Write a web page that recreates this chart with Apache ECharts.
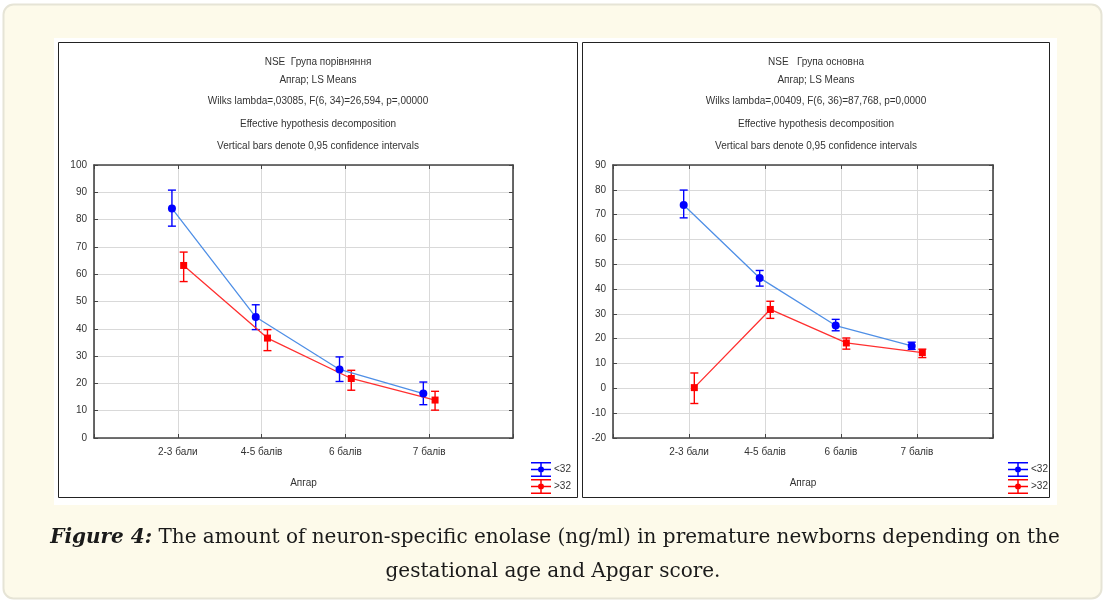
<!DOCTYPE html>
<html>
<head>
<meta charset="utf-8">
<script src="https://cdn.jsdelivr.net/npm/echarts@6/dist/echarts.min.js"></script>
<style>
  html, body { margin: 0; padding: 0; background: #fff; }
  #chart { width: 1106px; height: 603px; }
</style>
</head>
<body>
<div id="chart"></div>
<script>
// categories (Apgar score groups)
var cats = ['2-3 бали', '4-5 балів', '6 балів', '7 балів'];
var legendNames = ['<32', '>32'];

// left panel: Група порівняння
var leftBlueMean = [84.1, 44.3, 25.1, 16.3];
var leftBlueLow  = [77.6, 39.7, 20.7, 12.2];
var leftBlueHigh = [90.8, 48.8, 29.7, 20.5];
var leftRedMean  = [63.2, 36.6, 21.8, 13.9];
var leftRedLow   = [57.3, 32.0, 17.5, 10.2];
var leftRedHigh  = [68.1, 39.7, 24.8, 17.1];

// right panel: Група основна
var rightBlueMean = [73.9, 44.5, 25.3, 17.1];
var rightBlueLow  = [68.7, 41.2, 23.2, 15.7];
var rightBlueHigh = [79.9, 47.5, 27.8, 18.6];
var rightRedMean  = [0.3, 31.8, 18.3, 14.4];
var rightRedLow   = [-6.1, 28.2, 15.8, 12.4];
var rightRedHigh  = [6.2, 35.1, 20.3, 15.8];

var leftTitles = ['NSE  Група порівняння', 'Апгар; LS Means', 'Wilks lambda=,03085, F(6, 34)=26,594, p=,00000',
  'Effective hypothesis decomposition', 'Vertical bars denote 0,95 confidence intervals'];
var rightTitles = ['NSE   Група основна', 'Апгар; LS Means', 'Wilks lambda=,00409, F(6, 36)=87,768, p=0,0000',
  'Effective hypothesis decomposition', 'Vertical bars denote 0,95 confidence intervals'];

var BLUE = '#0000ff', BLUE_LINE = '#4f8fe6', RED = '#ff0000', RED_LINE = '#ff3030';
var FONT = '"Liberation Sans", Arial, sans-serif';
var SERIF = '"DejaVu Serif", serif';
var DODGE = 0.07;

var chart = echarts.init(document.getElementById('chart'));

function pts(means, shift) {
    return means.map(function (v, i) { return [i + 1 + shift, v]; });
}
function bars(low, high, shift) {
    return low.map(function (v, i) { return [i + 1 + shift, v, high[i]]; });
}
function errorBars(name, data, color, axisIdx) {
    return {
        name: name,
        type: 'custom',
        xAxisIndex: axisIdx, yAxisIndex: axisIdx,
        data: data,
        encode: { x: 0, y: [1, 2] },
        z: 3,
        renderItem: function (params, api) {
            var x = api.value(0);
            var p1 = api.coord([x, api.value(1)]);
            var p2 = api.coord([x, api.value(2)]);
            var w = 4;
            var st = { stroke: color, lineWidth: 1.4 };
            return {
                type: 'group',
                children: [
                    { type: 'line', shape: { x1: p1[0], y1: p1[1], x2: p2[0], y2: p2[1] }, style: st },
                    { type: 'line', shape: { x1: p1[0] - w, y1: p1[1], x2: p1[0] + w, y2: p1[1] }, style: st },
                    { type: 'line', shape: { x1: p2[0] - w, y1: p2[1], x2: p2[0] + w, y2: p2[1] }, style: st }
                ]
            };
        }
    };
}
function meanLine(name, data, color, lineColor, symbol, size, axisIdx) {
    return {
        name: name,
        type: 'line',
        xAxisIndex: axisIdx, yAxisIndex: axisIdx,
        data: data,
        symbol: symbol,
        symbolSize: size,
        z: 4,
        itemStyle: { color: color },
        lineStyle: { color: lineColor, width: 1.3 },
        emphasis: { disabled: true }
    };
}

function xAxes(gridIdx) {
    var base = {
        type: 'value', gridIndex: gridIdx, min: 0, max: 5, interval: 1,
        axisLine: { onZero: false, lineStyle: { color: '#444', width: 1.6 } },
        axisTick: { inside: true, length: 4, lineStyle: { color: '#444' } }
    };
    return [
        Object.assign({}, base, {
            position: 'bottom',
            name: 'Апгар', nameLocation: 'middle', nameGap: 40,
            nameTextStyle: { fontFamily: FONT, fontSize: 10, color: '#333' },
            axisLabel: {
                margin: 9, fontFamily: FONT, fontSize: 10, color: '#333',
                formatter: function (v) { return cats[v - 1] || ''; }
            },
            splitLine: { show: true, lineStyle: { color: '#d9d9d9', width: 1 } }
        }),
        Object.assign({}, base, {
            position: 'top', axisLabel: { show: false }, splitLine: { show: false }
        })
    ];
}
function yAxes(gridIdx, min, max) {
    var base = {
        type: 'value', gridIndex: gridIdx, min: min, max: max, interval: 10,
        axisLine: { show: true, onZero: false, lineStyle: { color: '#444', width: 1.6 } },
        axisTick: { show: true, inside: true, length: 4, lineStyle: { color: '#444' } }
    };
    return [
        Object.assign({}, base, {
            position: 'left',
            axisLabel: { margin: 7, fontFamily: FONT, fontSize: 10, color: '#333' },
            splitLine: { show: true, lineStyle: { color: '#d9d9d9', width: 1 } }
        }),
        Object.assign({}, base, {
            position: 'right', axisLabel: { show: false }, splitLine: { show: false }
        })
    ];
}

var iconPath = 'path://M0,0h20v1.5h-20z M0,6.75h20v1.5h-20z M0,13.5h20v1.5h-20z M9.25,0h1.5v15h-1.5z ' +
    'M7,7.5a3,3 0 1,1 6,0a3,3 0 1,1 -6,0z';

function legendAt(left) {
    return {
        left: left, top: 457, orient: 'vertical',
        itemWidth: 20, itemHeight: 15, itemGap: 2,
        selectedMode: false,
        textStyle: { fontFamily: FONT, fontSize: 10, color: '#333', padding: [0, 0, 0, -2] },
        data: [
            { name: legendNames[0], icon: iconPath, itemStyle: { color: BLUE } },
            { name: legendNames[1], icon: iconPath, itemStyle: { color: RED } }
        ]
    };
}

function titleTexts(lines, cx) {
    var ys = [62, 80, 101, 124, 146];
    return lines.map(function (t, i) {
        return {
            type: 'text', x: cx, y: ys[i], z: 10,
            style: { text: t, align: 'center', verticalAlign: 'middle', fontFamily: FONT, fontSize: 10, fill: '#333' }
        };
    });
}

var graphics = [
    { type: 'rect', z: -30, shape: { x: 3.5, y: 4.5, width: 1098, height: 594, r: 10 },
      style: { fill: '#fdfaea', stroke: '#e6e4d6', lineWidth: 2 } },
    { type: 'rect', z: -20, shape: { x: 54, y: 38, width: 1003, height: 467 }, style: { fill: '#fff' } },
    { type: 'rect', z: -10, shape: { x: 58.5, y: 42.5, width: 519, height: 455 },
      style: { fill: 'none', stroke: '#222', lineWidth: 1 } },
    { type: 'rect', z: -10, shape: { x: 582.5, y: 42.5, width: 467, height: 455 },
      style: { fill: 'none', stroke: '#222', lineWidth: 1 } },
    { type: 'text', x: 555, y: 538, z: 10,
      style: {
          text: '{b|Figure 4:} The amount of neuron-specific enolase (ng/ml) in premature newborns depending on the',
          align: 'center', verticalAlign: 'middle',
          fontFamily: SERIF, fontSize: 20, fill: '#1a1a1a',
          rich: { b: { fontFamily: SERIF, fontSize: 20, fontWeight: 'bold', fontStyle: 'italic', fill: '#1a1a1a' } }
      } },
    { type: 'text', x: 553, y: 572, z: 10,
      style: {
          text: 'gestational age and Apgar score.', align: 'center', verticalAlign: 'middle',
          fontFamily: SERIF, fontSize: 20, fill: '#1a1a1a'
      } }
].concat(titleTexts(leftTitles, 318), titleTexts(rightTitles, 816));

chart.setOption({
    animation: false,
    graphic: graphics,
    legend: [legendAt(526), legendAt(1003)],
    grid: [
        { left: 94, top: 165, width: 419, height: 273 },
        { left: 613, top: 165, width: 380, height: 273 }
    ],
    xAxis: xAxes(0).concat(xAxes(1)),
    yAxis: yAxes(0, 0, 100).concat(yAxes(1, -20, 90)),
    series: [
        meanLine(legendNames[0], pts(leftBlueMean, -DODGE), BLUE, BLUE_LINE, 'circle', 8, 0),
        meanLine(legendNames[1], pts(leftRedMean, DODGE), RED, RED_LINE, 'rect', 7, 0),
        errorBars(legendNames[0], bars(leftBlueLow, leftBlueHigh, -DODGE), BLUE, 0),
        errorBars(legendNames[1], bars(leftRedLow, leftRedHigh, DODGE), RED, 0),
        meanLine(legendNames[0], pts(rightBlueMean, -DODGE), BLUE, BLUE_LINE, 'circle', 8, 2),
        meanLine(legendNames[1], pts(rightRedMean, DODGE), RED, RED_LINE, 'rect', 7, 2),
        errorBars(legendNames[0], bars(rightBlueLow, rightBlueHigh, -DODGE), BLUE, 2),
        errorBars(legendNames[1], bars(rightRedLow, rightRedHigh, DODGE), RED, 2)
    ]
});
</script>
</body>
</html>
